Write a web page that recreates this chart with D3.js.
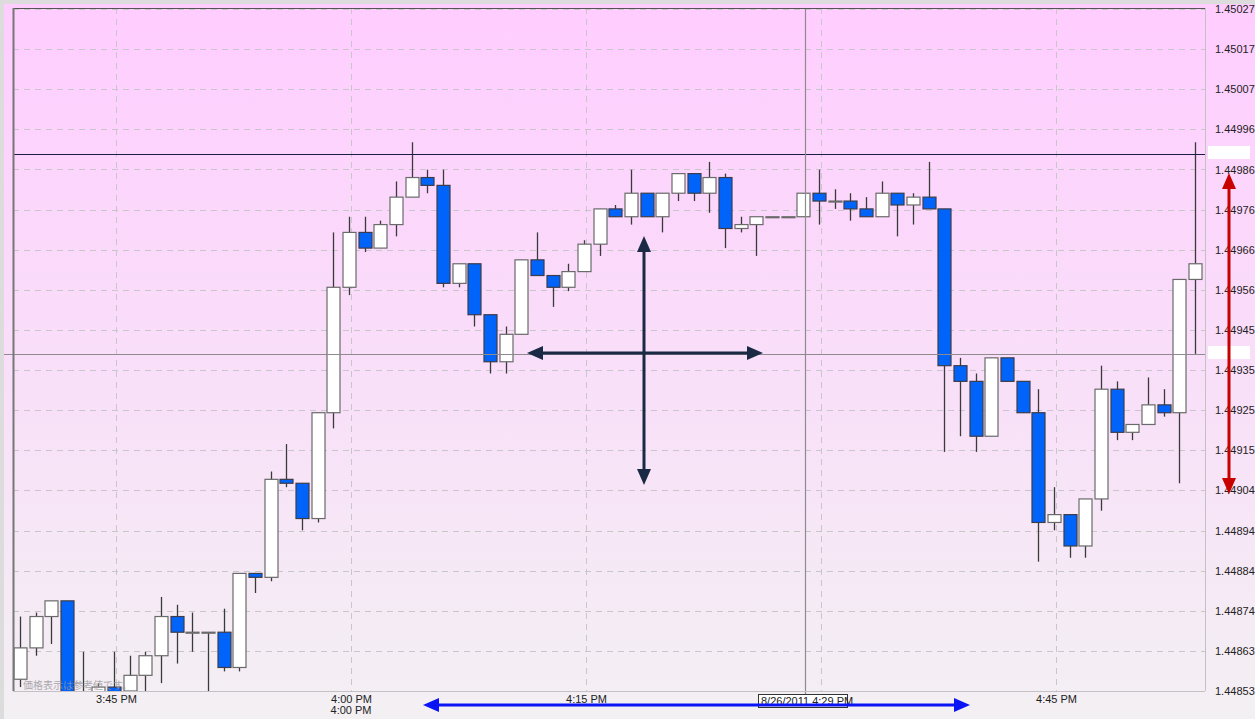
<!DOCTYPE html>
<html>
<head>
<meta charset="utf-8">
<script src="https://cdn.jsdelivr.net/npm/d3@7"></script>
<style>
  body { margin: 0; background: #dcdcdc; }
  svg { display: block; }
  .axis text { font-family: "Liberation Sans", Arial, sans-serif; font-size: 11px; fill: #222; }
</style>
</head>
<body>
<div id="chart"></div>
<script>
// one-minute candles, first one at 3:39 PM on 8/26/2011
var firstCandle = new Date(2011, 7, 26, 15, 39);

var opens  = [1.44856,1.44864,1.44872,1.44876,1.44850,1.44852,1.44854,1.44853,1.44857,1.44862,
              1.44872,1.44868,1.44868,1.44868,1.44859,1.44883,1.44882,1.44907,1.44906,1.44897,
              1.44924,1.44956,1.44970,1.44966,1.44972,1.44979,1.44984,1.44982,1.44957,1.44962,
              1.44949,1.44937,1.44944,1.44963,1.44959,1.44956,1.44960,1.44967,1.44976,1.44974,
              1.44980,1.44974,1.44980,1.44985,1.44980,1.44984,1.44971,1.44972,1.44974,1.44974,
              1.44974,1.44980,1.44978,1.44978,1.44976,1.44974,1.44980,1.44977,1.44979,1.44976,
              1.44936,1.44932,1.44918,1.44938,1.44932,1.44924,1.44896,1.44898,1.44890,1.44902,
              1.44930,1.44919,1.44921,1.44926,1.44924,1.44958];
var highs  = [1.44872,1.44873,1.44876,1.44876,1.44863,1.44855,1.44863,1.44862,1.44863,1.44877,
              1.44875,1.44873,1.44868,1.44874,1.44883,1.44883,1.44909,1.44916,1.44906,1.44924,
              1.44970,1.44974,1.44974,1.44973,1.44983,1.44993,1.44986,1.44986,1.44962,1.44962,
              1.44949,1.44946,1.44963,1.44970,1.44959,1.44962,1.44968,1.44976,1.44977,1.44986,
              1.44980,1.44980,1.44985,1.44985,1.44988,1.44985,1.44974,1.44974,1.44974,1.44974,
              1.44980,1.44986,1.44981,1.44980,1.44979,1.44983,1.44980,1.44980,1.44988,1.44976,
              1.44938,1.44934,1.44938,1.44938,1.44932,1.44930,1.44905,1.44898,1.44902,1.44936,
              1.44932,1.44921,1.44933,1.44930,1.44958,1.44993];
var lows   = [1.44854,1.44862,1.44865,1.44848,1.44843,1.44851,1.44849,1.44852,1.44853,1.44855,
              1.44860,1.44863,1.44850,1.44858,1.44858,1.44878,1.44881,1.44905,1.44894,1.44896,
              1.44920,1.44954,1.44965,1.44966,1.44969,1.44979,1.44980,1.44956,1.44956,1.44946,
              1.44934,1.44934,1.44944,1.44959,1.44951,1.44955,1.44960,1.44964,1.44974,1.44972,
              1.44974,1.44970,1.44978,1.44978,1.44975,1.44966,1.44970,1.44964,1.44974,1.44974,
              1.44974,1.44972,1.44976,1.44973,1.44974,1.44974,1.44969,1.44972,1.44976,1.44914,
              1.44918,1.44914,1.44918,1.44932,1.44924,1.44886,1.44894,1.44887,1.44887,1.44899,
              1.44917,1.44917,1.44921,1.44923,1.44906,1.44939];
var closes = [1.44864,1.44872,1.44876,1.44850,1.44845,1.44854,1.44850,1.44857,1.44862,1.44872,
              1.44868,1.44868,1.44868,1.44859,1.44883,1.44882,1.44907,1.44906,1.44897,1.44924,
              1.44956,1.44970,1.44966,1.44972,1.44979,1.44984,1.44982,1.44957,1.44962,1.44949,
              1.44937,1.44944,1.44963,1.44959,1.44956,1.44960,1.44967,1.44976,1.44974,1.44980,
              1.44974,1.44980,1.44985,1.44980,1.44984,1.44971,1.44972,1.44974,1.44974,1.44974,
              1.44980,1.44978,1.44978,1.44976,1.44974,1.44980,1.44977,1.44979,1.44976,1.44936,
              1.44932,1.44918,1.44938,1.44932,1.44924,1.44896,1.44898,1.44890,1.44902,1.44930,
              1.44919,1.44921,1.44926,1.44924,1.44958,1.44962];

var priceLabels = ["1.44853","1.44863","1.44874","1.44884","1.44894","1.44904","1.44915","1.44925","1.44935",
                   "1.44945","1.44956","1.44966","1.44976","1.44986","1.44996","1.45007","1.45017","1.45027"];
var priceDomain = [1.44853, 1.45027];

var gridTimes  = ["15:45","16:00","16:15","16:30","16:45"];
var labelTimes = ["15:45","16:00","16:15","16:45"];

var crosshairTime = "16:29";
var crosshairPrice = 1.44939;
var markedPrice = 1.44990;   // dark horizontal line
var crosshairText = "8/26/2011 4:29 PM";
var noteText = "価格表示は参考値です。";

var width = 1255, height = 719;
var plot = {left: 13, right: 1205, top: 8, bottom: 691};

function at(hm) {
  var p = hm.split(":");
  return new Date(2011, 7, 26, +p[0], +p[1]);
}

var candles = opens.map(function(o, i) {
  return {t: d3.timeMinute.offset(firstCandle, i), o: o, h: highs[i], l: lows[i], c: closes[i]};
});

var svg = d3.select("#chart").append("svg")
    .attr("width", width)
    .attr("height", height);

var defs = svg.append("defs");

var grad = defs.append("linearGradient")
    .attr("id", "bg")
    .attr("x1", 0).attr("y1", 0).attr("x2", 0).attr("y2", 1);
grad.append("stop").attr("offset", "0%").attr("stop-color", "#ffcdff");
grad.append("stop").attr("offset", "100%").attr("stop-color", "#f3f0f3");

defs.append("clipPath").attr("id", "plotclip")
  .append("rect")
    .attr("x", plot.left).attr("y", plot.top)
    .attr("width", plot.right - plot.left).attr("height", plot.bottom - plot.top);

function arrowMarker(id, color) {
  defs.append("marker")
      .attr("id", id)
      .attr("viewBox", "0 0 16 14")
      .attr("markerUnits", "userSpaceOnUse")
      .attr("markerWidth", 16)
      .attr("markerHeight", 14)
      .attr("refX", 7)
      .attr("refY", 7)
      .attr("orient", "auto-start-reverse")
    .append("path")
      .attr("d", "M0,0 L16,7 L0,14 Z")
      .attr("fill", color);
}
arrowMarker("arrNavy", "#1b2a44");
arrowMarker("arrRed", "#c80000");
arrowMarker("arrBlue", "#0a14f5");

svg.append("rect")
    .attr("width", width).attr("height", height)
    .attr("fill", "#dcdcdc");
svg.append("rect")
    .attr("x", 4).attr("y", 4)
    .attr("width", width - 4).attr("height", height - 4)
    .attr("fill", "url(#bg)");

var x = d3.scaleTime()
    .domain([at("15:45"), at("16:45")])
    .range([116, 1056]);

var y = d3.scaleLinear()
    .domain(priceDomain)
    .range([plot.bottom, plot.top + 1]);

var tickVals = priceLabels.map(function(d, k) {
  return priceDomain[0] + k * (priceDomain[1] - priceDomain[0]) / (priceLabels.length - 1);
});

// grid
var grid = svg.append("g").attr("stroke", "#c9c6c9").attr("stroke-dasharray", "6,5");
grid.selectAll(".hgrid")
    .data(tickVals)
    .enter().append("line")
    .attr("x1", plot.left).attr("x2", plot.right)
    .attr("y1", d => Math.round(y(d)) + 0.5)
    .attr("y2", d => Math.round(y(d)) + 0.5);
grid.selectAll(".vgrid")
    .data(gridTimes)
    .enter().append("line")
    .attr("y1", plot.top).attr("y2", plot.bottom)
    .attr("x1", d => Math.round(x(at(d))) + 0.5)
    .attr("x2", d => Math.round(x(at(d))) + 0.5);

// candles
var cx = d => Math.round(x(d.t) - 2) + 0.5;
var bodyW = 13;

var cg = svg.append("g").attr("clip-path", "url(#plotclip)");

cg.selectAll(".wick")
    .data(candles)
    .enter().append("line")
    .attr("class", "wick")
    .attr("x1", cx).attr("x2", cx)
    .attr("y1", d => y(d.h))
    .attr("y2", d => y(d.l))
    .attr("stroke", "#3a3a3a")
    .attr("stroke-width", 1.3);

cg.selectAll(".body")
    .data(candles)
    .enter().append("rect")
    .attr("class", "body")
    .attr("x", d => cx(d) - bodyW / 2)
    .attr("y", d => y(Math.max(d.o, d.c)))
    .attr("width", bodyW)
    .attr("height", d => Math.max(1, Math.abs(y(d.o) - y(d.c))))
    .attr("fill", d => d.c >= d.o ? "#ffffff" : "#0064fa")
    .attr("stroke", d => d.c >= d.o ? "#6a6a6a" : "#3c3c4a")
    .attr("stroke-width", 1.2);

// marked price line and crosshair
svg.append("line")
    .attr("x1", plot.left).attr("x2", plot.right)
    .attr("y1", Math.round(y(markedPrice)) + 0.5).attr("y2", Math.round(y(markedPrice)) + 0.5)
    .attr("stroke", "#1c1c48")
    .attr("stroke-width", 1);

svg.append("line")
    .attr("x1", 4).attr("x2", plot.right)
    .attr("y1", Math.round(y(crosshairPrice)) + 0.5).attr("y2", Math.round(y(crosshairPrice)) + 0.5)
    .attr("stroke", "#8e8a8e")
    .attr("stroke-width", 1.2);

svg.append("line")
    .attr("x1", Math.round(x(at(crosshairTime))) + 0.5).attr("x2", Math.round(x(at(crosshairTime))) + 0.5)
    .attr("y1", plot.top).attr("y2", plot.bottom + 3)
    .attr("stroke", "#8e8a8e")
    .attr("stroke-width", 1.2);

// frame
svg.append("line")
    .attr("x1", plot.left).attr("x2", plot.right)
    .attr("y1", plot.top + 0.5).attr("y2", plot.top + 0.5)
    .attr("stroke", "#555");
svg.append("line")
    .attr("x1", plot.left + 0.5).attr("x2", plot.left + 0.5)
    .attr("y1", plot.top).attr("y2", plot.bottom)
    .attr("stroke", "#777")
    .attr("stroke-width", 2);
svg.append("line")
    .attr("x1", plot.right + 0.5).attr("x2", plot.right + 0.5)
    .attr("y1", plot.top).attr("y2", plot.bottom)
    .attr("stroke", "#c4c0c4");
svg.append("line")
    .attr("x1", plot.left).attr("x2", plot.right)
    .attr("y1", plot.bottom + 0.5).attr("y2", plot.bottom + 0.5)
    .attr("stroke", "#c4c0c4");

// right price axis
var yAxis = d3.axisRight(y)
    .tickValues(tickVals)
    .tickFormat((d, i) => priceLabels[i])
    .tickSize(0)
    .tickPadding(10);

svg.append("g")
    .attr("class", "axis")
    .attr("transform", `translate(${plot.right},0)`)
    .call(yAxis)
    .call(g => g.select(".domain").remove());

// highlight boxes on the price axis
[markedPrice, crosshairPrice].forEach(function(p) {
  svg.append("rect")
      .attr("x", plot.right + 3).attr("y", Math.round(y(p)) - 8)
      .attr("width", 42).attr("height", 13)
      .attr("fill", "#ffffff");
});

// time axis
var fmt = d3.timeFormat("%-I:%M %p");
var xAxis = d3.axisBottom(x)
    .tickValues(labelTimes.map(at))
    .tickFormat(fmt)
    .tickSize(0)
    .tickPadding(4);

svg.append("g")
    .attr("class", "axis")
    .attr("transform", `translate(0,${plot.bottom})`)
    .call(xAxis)
    .call(g => g.select(".domain").remove());

svg.append("text")
    .attr("class", "axis")
    .attr("x", x(at("16:00")))
    .attr("y", 714)
    .attr("text-anchor", "middle")
    .style("font-family", "Liberation Sans, Arial, sans-serif")
    .style("font-size", "11px")
    .style("fill", "#222")
    .text(fmt(at("16:00")));

// crosshair time label
var chx = Math.round(x(at(crosshairTime)));
svg.append("rect")
    .attr("x", chx - 46.5).attr("y", 694.5)
    .attr("width", 89).attr("height", 13)
    .attr("fill", "#ffffff")
    .attr("stroke", "#333");
svg.append("text")
    .attr("x", chx - 44).attr("y", 705)
    .style("font-family", "Liberation Sans, Arial, sans-serif")
    .style("font-size", "11px")
    .style("fill", "#222")
    .text(crosshairText);

// note text
svg.append("text")
    .attr("x", 23).attr("y", 689)
    .style("font-family", "Noto Sans CJK JP, sans-serif")
    .style("font-size", "10px")
    .style("fill", "#9a969a")
    .style("opacity", 0.8)
    .text(noteText);

// drawn arrows
function arrow(x1, y1, x2, y2, color, marker, w) {
  var dx = x2 - x1, dy = y2 - y1, len = Math.sqrt(dx * dx + dy * dy);
  var ux = dx / len, uy = dy / len, inset = 9;
  svg.append("line")
      .attr("x1", x1 + ux * inset).attr("y1", y1 + uy * inset)
      .attr("x2", x2 - ux * inset).attr("y2", y2 - uy * inset)
      .attr("stroke", color)
      .attr("stroke-width", w)
      .attr("marker-start", `url(#${marker})`)
      .attr("marker-end", `url(#${marker})`);
}

arrow(527, 353, 763, 353, "#1b2a44", "arrNavy", 3);
arrow(644, 236, 644, 485, "#1b2a44", "arrNavy", 3);
arrow(1229, 173, 1229, 494, "#c80000", "arrRed", 3);
arrow(423, 705, 970, 705, "#0a14f5", "arrBlue", 3);
</script>
</body>
</html>
